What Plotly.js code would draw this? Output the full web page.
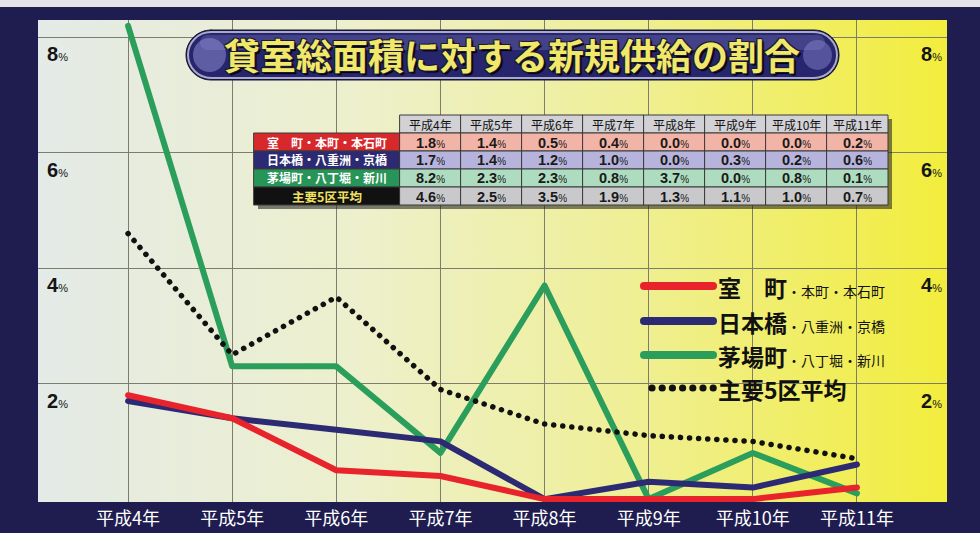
<!DOCTYPE html>
<html><head><meta charset="utf-8">
<script src="https://cdn.plot.ly/plotly-3.0.1.min.js"></script>
<style>
html,body{margin:0;padding:0;background:#1f1d50;}
#chart{width:980px;height:533px;}
.scatterlayer path.js-line{stroke-linecap:round;stroke-linejoin:round;}
.layer-above .shapelayer path{stroke-linecap:round;}
</style></head><body><div id="chart"></div>
<script>
// ---- data ----
const years = ['平成4年','平成5年','平成6年','平成7年','平成8年','平成9年','平成10年','平成11年'];
const muromachi  = [1.8, 1.4, 0.5, 0.4, 0.0, 0.0, 0.0, 0.2];
const nihonbashi = [1.7, 1.4, 1.2, 1.0, 0.0, 0.3, 0.2, 0.6];
const kayabacho  = [8.2, 2.3, 2.3, 0.8, 3.7, 0.0, 0.8, 0.1];
const average5   = [4.6, 2.5, 3.5, 1.9, 1.3, 1.1, 1.0, 0.7];
const seriesNames = ['室　町', '日本橋', '茅場町', '主要5区平均'];
const subNames    = ['・本町・本石町', '・八重洲・京橋', '・八丁堀・新川', ''];
const yTicks = [2, 4, 6, 8];
const chartTitle = '貸室総面積に対する新規供給の割合';

// ---- geometry / styles ----
const W = 980, H = 533, L = 38, R = 947, T = 20, B = 502;
const px = p => (p - L) / (R - L);
const py = p => (B - p) / (B - T);
const colors = ['#e8232b', '#2c2a72', '#2b9e5c', '#111111'];
const JP = 'Noto Sans CJK JP';
const NUM = 'Liberation Sans, Arial';
const allSeries = [muromachi, nihonbashi, kayabacho, average5];

// line traces (draw order: green, blue, red, dotted)
const traces = [2, 1, 0, 3].map(i => ({
  type: 'scatter', mode: 'lines', x: years, y: allSeries[i], name: seriesNames[i],
  showlegend: false, hoverinfo: 'skip',
  line: i === 3 ? {color: colors[i], width: 5.5, dash: '0.1px,9px'} : {color: colors[i], width: 6}
}));

const shapes = [];
const annotations = [];

// top light strip (photo edge)
shapes.push({type: 'rect', xref: 'paper', yref: 'paper', x0: px(0), x1: px(W), y0: py(7), y1: py(0),
  fillcolor: '#e2e2e8', line: {width: 0}, layer: 'below'});

// ---- data table (cells drawn as shapes, text as annotations) ----
const fmt = v => `<b>${v.toFixed(1)}</b><span style="font-size:10px">%</span>`;
const labelCol = seriesNames.map((n, i) => n + subNames[i]);
const labelFill = ['#d7282c', '#2b2a72', '#279558', '#111111'];
const labelFont = ['#ffffff', '#ffffff', '#ffffff', '#f0e060'];
const rowFill = ['#f2b4a6', '#b6b4dc', '#aedcc0', '#c9c9cc'];
const tX0 = 254, tLab = 400, cW = 61, tY0 = 115, rH = 18;
const rect = (x0, x1, y0, y1, fill, lc, lw) => ({type: 'rect', xref: 'paper', yref: 'paper',
  x0: px(x0), x1: px(x1), y0: py(y1), y1: py(y0), fillcolor: fill, line: {color: lc, width: lw}, layer: 'above'});
const tRight = tLab + cW * years.length;
const tBottom = tY0 + rH * (1 + seriesNames.length);
const cellText = (xc, yc, text, font) => ({xref: 'paper', yref: 'paper', x: px(xc), y: py(yc), xanchor: 'center',
  yanchor: 'middle', showarrow: false, borderpad: 0, height: 15, valign: 'middle', text: text, font: font});
// drop shadows
shapes.push(rect(tLab + 4, tRight + 4, tY0 + 4, tBottom + 4, 'rgba(25,25,25,0.55)', 'rgba(0,0,0,0)', 0));
shapes.push(rect(tX0 + 4, tLab + 4, tY0 + rH + 4, tBottom + 4, 'rgba(25,25,25,0.55)', 'rgba(0,0,0,0)', 0));
// header
years.forEach((y, j) => {
  const x0 = tLab + j * cW;
  shapes.push(rect(x0, x0 + cW, tY0, tY0 + rH, '#d2d2d6', '#3a3a3a', 1));
  annotations.push(cellText(x0 + cW / 2, tY0 + rH / 2, y, {family: JP, size: 12, color: '#111'}));
});
// body rows
seriesNames.forEach((n, r) => {
  const y0 = tY0 + rH * (r + 1);
  shapes.push(rect(tX0, tLab, y0, y0 + rH, labelFill[r], '#3a3a3a', 1));
  annotations.push(cellText((tX0 + tLab) / 2, y0 + rH / 2, `<b>${labelCol[r]}</b>`,
    {family: JP, size: r === 3 ? 12.5 : 12, color: labelFont[r]}));
  allSeries[r].forEach((v, j) => {
    const x0 = tLab + j * cW;
    shapes.push(rect(x0, x0 + cW, y0, y0 + rH, rowFill[r], '#3a3a3a', 1));
    annotations.push(cellText(x0 + cW / 2, y0 + rH / 2, fmt(v), {family: NUM, size: 14.5, color: '#1a1a1a'}));
  });
});

// ---- title pill ----
function pill(Lp, Rp, Tp, Bp) {
  const r = (Bp - Tp) / 2, cy = (Tp + Bp) / 2, k = 0.5523 * r;
  const P = (x, y) => `${px(x)},${py(y)}`;
  return `M${P(Lp + r, Tp)} L${P(Rp - r, Tp)} C${P(Rp - r + k, Tp)} ${P(Rp, cy - k)} ${P(Rp, cy)} ` +
    `C${P(Rp, cy + k)} ${P(Rp - r + k, Bp)} ${P(Rp - r, Bp)} L${P(Lp + r, Bp)} ` +
    `C${P(Lp + r - k, Bp)} ${P(Lp, cy + k)} ${P(Lp, cy)} C${P(Lp, cy - k)} ${P(Lp + r - k, Tp)} ${P(Lp + r, Tp)} Z`;
}
shapes.push({type: 'path', xref: 'paper', yref: 'paper', path: pill(186, 839, 30, 80),
  fillcolor: '#15143a', line: {color: '#15143a', width: 1}, layer: 'above'});
shapes.push({type: 'path', xref: 'paper', yref: 'paper', path: pill(188, 837, 32, 78),
  fillcolor: '#27256e', line: {color: '#a9a9c9', width: 2}, layer: 'above'});
shapes.push({type: 'path', xref: 'paper', yref: 'paper', path: pill(200, 825, 35, 50),
  fillcolor: 'rgba(120,120,190,0.35)', line: {width: 0}, layer: 'above'});
shapes.push({type: 'circle', xref: 'paper', yref: 'paper', x0: px(193), x1: px(226), y0: py(72), y1: py(38),
  fillcolor: 'rgba(140,140,210,0.55)', line: {width: 0}, layer: 'above'});
shapes.push({type: 'circle', xref: 'paper', yref: 'paper', x0: px(803), x1: px(832), y0: py(70), y1: py(40),
  fillcolor: 'rgba(140,140,210,0.45)', line: {width: 0}, layer: 'above'});
annotations.push({xref: 'paper', yref: 'paper', x: px(512), y: py(54), xanchor: 'center', yanchor: 'middle',
  showarrow: false, text: chartTitle,
  font: {family: JP, size: 36, weight: 700, color: '#f1e86a',
    shadow: '1px 1px 0 #1a1a30, -1px -1px 0 #1a1a30, 1px -1px 0 #1a1a30, -1px 1px 0 #1a1a30, 2px 2px 1px #000'}});

// ---- legend ----
const legY = [286, 321, 355, 388];
[0, 1, 2].forEach(i => {
  shapes.push({type: 'line', xref: 'paper', yref: 'paper', x0: px(644), x1: px(713), y0: py(legY[i]), y1: py(legY[i]),
    line: {color: colors[i], width: 8}, layer: 'above'});
});
for (let d = 0; d < 7; d++) {
  const cx = 652 + d * 10.2;
  shapes.push({type: 'circle', xref: 'paper', yref: 'paper', x0: px(cx - 3.6), x1: px(cx + 3.6),
    y0: py(legY[3] + 3.6), y1: py(legY[3] - 3.6), fillcolor: '#111', line: {width: 0}, layer: 'above'});
}
seriesNames.forEach((n, i) => {
  annotations.push({xref: 'paper', yref: 'paper', x: px(717), y: py(legY[i] + 1), xanchor: 'left', yanchor: 'middle',
    showarrow: false, borderpad: 0, height: 28,
    text: `<b>${n}</b>` + (subNames[i] ? `<span style="font-size:14px">${subNames[i]}</span>` : ''),
    font: {family: JP, size: 23, color: '#111'}});
});

// ---- y tick labels (inside, both sides) ----
yTicks.forEach(v => {
  const t = `<b>${v}</b><span style="font-size:11px">%</span>`;
  annotations.push({xref: 'paper', yref: 'y', x: px(45), y: v, yshift: -17, xanchor: 'left', yanchor: 'middle',
    showarrow: false, text: t, font: {family: NUM, size: 20, color: '#151515'}});
  annotations.push({xref: 'paper', yref: 'y', x: px(944), y: v, yshift: -17, xanchor: 'right', yanchor: 'middle',
    showarrow: false, text: t, font: {family: NUM, size: 20, color: '#151515'}});
});

// gradient background for plot area
const gsvg = `<svg xmlns='http://www.w3.org/2000/svg' width='909' height='482' preserveAspectRatio='none'><defs><linearGradient id='g' x1='0' y1='0' x2='1' y2='0'><stop offset='0' stop-color='#e4eae7'/><stop offset='0.35' stop-color='#edf0cc'/><stop offset='0.65' stop-color='#efef96'/><stop offset='1' stop-color='#f2ed3c'/></linearGradient></defs><rect width='909' height='482' fill='url(#g)'/></svg>`;

const layout = {
  width: W, height: H,
  margin: {l: L, r: W - R, t: T, b: H - B, pad: 0},
  paper_bgcolor: '#1f1d50', plot_bgcolor: 'rgba(0,0,0,0)',
  showlegend: false,
  xaxis: {type: 'category', range: [-0.865, 7.865], showgrid: true, gridcolor: '#7d7d6e', gridwidth: 1,
    zeroline: false, showline: false, ticks: '', ticklabelstandoff: 4,
    tickfont: {family: JP, size: 18, color: '#ffffff'}, fixedrange: true},
  yaxis: {range: [-0.05, 8.30], tickvals: yTicks, showticklabels: false, showgrid: true, gridcolor: '#7d7d6e',
    gridwidth: 1, zeroline: false, showline: false, fixedrange: true},
  images: [{source: 'data:image/svg+xml;charset=utf-8,' + encodeURIComponent(gsvg), xref: 'paper', yref: 'paper',
    x: 0, y: 1, sizex: 1, sizey: 1, sizing: 'stretch', xanchor: 'left', yanchor: 'top', layer: 'below'}],
  shapes: shapes,
  annotations: annotations
};
Plotly.newPlot('chart', traces, layout, {staticPlot: true, displayModeBar: false});
</script></body></html>
